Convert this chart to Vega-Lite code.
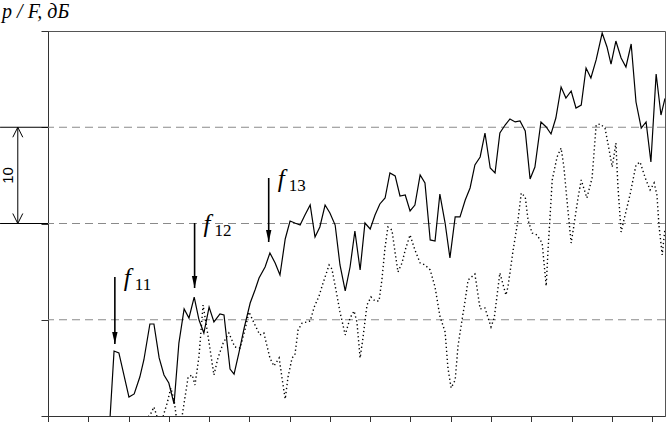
{
  "$schema": "https://vega.github.io/schema/vega-lite/v6.json",
  "width": 617,
  "height": 385,
  "autosize": {"type": "none"},
  "padding": {"left": 48, "top": 31, "right": 2, "bottom": 6},
  "background": "white",
  "config": {
    "view": {"stroke": "#555", "strokeWidth": 1},
    "axis": {"domainColor": "#333", "tickColor": "#333", "labels": false, "title": null, "grid": false}
  },
  "datasets": {
    "grid": [{"v": 10}, {"v": 20}, {"v": 30}],
    "solid": [
      {"x": 1.54, "y": -0.2}, {"x": 1.64, "y": 6.75}, {"x": 1.76, "y": 6.55}, {"x": 2.01, "y": 1.97},
      {"x": 2.14, "y": 2.29}, {"x": 2.28, "y": 4.05}, {"x": 2.38, "y": 5.82}, {"x": 2.53, "y": 9.56},
      {"x": 2.63, "y": 9.56}, {"x": 2.76, "y": 6.03}, {"x": 2.88, "y": 4.26}, {"x": 3.0, "y": 3.43},
      {"x": 3.13, "y": 1.25}, {"x": 3.25, "y": 7.58}, {"x": 3.38, "y": 11.12}, {"x": 3.5, "y": 10.18},
      {"x": 3.63, "y": 12.36}, {"x": 3.75, "y": 9.97}, {"x": 3.87, "y": 8.62}, {"x": 4.0, "y": 11.32},
      {"x": 4.12, "y": 9.77}, {"x": 4.27, "y": 10.6}, {"x": 4.37, "y": 10.49}, {"x": 4.52, "y": 4.88},
      {"x": 4.62, "y": 4.36}, {"x": 4.74, "y": 6.55}, {"x": 4.87, "y": 9.14}, {"x": 5.02, "y": 11.74},
      {"x": 5.14, "y": 13.09}, {"x": 5.24, "y": 14.34}, {"x": 5.39, "y": 15.48}, {"x": 5.51, "y": 16.94},
      {"x": 5.64, "y": 15.9}, {"x": 5.76, "y": 14.65}, {"x": 5.89, "y": 18.39}, {"x": 6.01, "y": 20.26},
      {"x": 6.13, "y": 20.05}, {"x": 6.26, "y": 19.84}, {"x": 6.38, "y": 20.88}, {"x": 6.51, "y": 21.92},
      {"x": 6.63, "y": 18.6}, {"x": 6.75, "y": 19.64}, {"x": 6.88, "y": 21.92}, {"x": 7.0, "y": 21.09},
      {"x": 7.13, "y": 19.84}, {"x": 7.25, "y": 15.69}, {"x": 7.38, "y": 12.99}, {"x": 7.5, "y": 15.48},
      {"x": 7.62, "y": 19.22}, {"x": 7.75, "y": 15.17}, {"x": 7.87, "y": 20.05}, {"x": 8.0, "y": 19.43},
      {"x": 8.12, "y": 20.88}, {"x": 8.24, "y": 22.03}, {"x": 8.37, "y": 22.65}, {"x": 8.49, "y": 25.25},
      {"x": 8.62, "y": 24.94}, {"x": 8.74, "y": 22.86}, {"x": 8.87, "y": 22.96}, {"x": 8.99, "y": 21.3},
      {"x": 9.11, "y": 21.92}, {"x": 9.24, "y": 25.04}, {"x": 9.36, "y": 24.21}, {"x": 9.49, "y": 18.29},
      {"x": 9.61, "y": 18.18}, {"x": 9.73, "y": 23.06}, {"x": 9.86, "y": 20.05}, {"x": 9.98, "y": 16.42},
      {"x": 10.11, "y": 20.68}, {"x": 10.23, "y": 20.68}, {"x": 10.36, "y": 22.44}, {"x": 10.48, "y": 23.69},
      {"x": 10.6, "y": 26.08}, {"x": 10.73, "y": 26.91}, {"x": 10.85, "y": 29.4}, {"x": 10.98, "y": 25.77},
      {"x": 11.1, "y": 25.25}, {"x": 11.22, "y": 29.4}, {"x": 11.35, "y": 30.23}, {"x": 11.47, "y": 30.86},
      {"x": 11.6, "y": 30.55}, {"x": 11.72, "y": 30.65}, {"x": 11.85, "y": 29.61}, {"x": 11.97, "y": 24.62},
      {"x": 12.09, "y": 25.87}, {"x": 12.24, "y": 30.55}, {"x": 12.37, "y": 30.03}, {"x": 12.49, "y": 29.3},
      {"x": 12.61, "y": 30.96}, {"x": 12.74, "y": 34.18}, {"x": 12.86, "y": 33.04}, {"x": 12.99, "y": 33.77},
      {"x": 13.11, "y": 32.0}, {"x": 13.24, "y": 32.31}, {"x": 13.36, "y": 36.16}, {"x": 13.48, "y": 35.12},
      {"x": 13.61, "y": 36.99}, {"x": 13.76, "y": 39.79}, {"x": 13.88, "y": 38.34}, {"x": 13.98, "y": 36.57},
      {"x": 14.1, "y": 38.96}, {"x": 14.23, "y": 37.19}, {"x": 14.35, "y": 36.26}, {"x": 14.48, "y": 38.65},
      {"x": 14.6, "y": 32.62}, {"x": 14.73, "y": 29.92}, {"x": 14.85, "y": 30.55}, {"x": 14.97, "y": 26.39},
      {"x": 15.1, "y": 35.53}, {"x": 15.22, "y": 31.27}, {"x": 15.32, "y": 33.0}
    ],
    "dotted": [
      {"x": 2.43, "y": -0.42}, {"x": 2.56, "y": 0.31}, {"x": 2.63, "y": 0.94}, {"x": 2.71, "y": -0.1},
      {"x": 2.78, "y": -0.73}, {"x": 2.86, "y": 0.0}, {"x": 2.96, "y": 1.35}, {"x": 3.05, "y": 2.91},
      {"x": 3.13, "y": 1.66}, {"x": 3.2, "y": -0.52}, {"x": 3.33, "y": 0.0}, {"x": 3.48, "y": 4.05},
      {"x": 3.58, "y": 4.26}, {"x": 3.65, "y": 3.22}, {"x": 3.75, "y": 6.23}, {"x": 3.85, "y": 11.53},
      {"x": 3.97, "y": 8.42}, {"x": 4.12, "y": 4.26}, {"x": 4.22, "y": 6.03}, {"x": 4.35, "y": 7.58},
      {"x": 4.49, "y": 8.62}, {"x": 4.64, "y": 7.17}, {"x": 4.77, "y": 7.06}, {"x": 4.89, "y": 8.94},
      {"x": 4.99, "y": 10.81}, {"x": 5.14, "y": 9.45}, {"x": 5.26, "y": 8.42}, {"x": 5.36, "y": 8.62},
      {"x": 5.51, "y": 6.03}, {"x": 5.61, "y": 5.19}, {"x": 5.74, "y": 6.03}, {"x": 5.81, "y": 3.95},
      {"x": 5.89, "y": 1.77}, {"x": 5.96, "y": 4.05}, {"x": 6.06, "y": 6.03}, {"x": 6.13, "y": 6.34},
      {"x": 6.21, "y": 8.94}, {"x": 6.31, "y": 9.66}, {"x": 6.43, "y": 9.77}, {"x": 6.51, "y": 9.87},
      {"x": 6.61, "y": 11.32}, {"x": 6.73, "y": 12.47}, {"x": 6.83, "y": 13.82}, {"x": 6.98, "y": 15.69},
      {"x": 7.05, "y": 15.27}, {"x": 7.15, "y": 13.09}, {"x": 7.25, "y": 10.81}, {"x": 7.38, "y": 8.42},
      {"x": 7.5, "y": 10.18}, {"x": 7.6, "y": 10.91}, {"x": 7.67, "y": 9.77}, {"x": 7.75, "y": 6.03},
      {"x": 7.82, "y": 8.1}, {"x": 7.92, "y": 11.53}, {"x": 8.02, "y": 12.36}, {"x": 8.12, "y": 11.95},
      {"x": 8.22, "y": 11.95}, {"x": 8.29, "y": 14.13}, {"x": 8.37, "y": 17.56}, {"x": 8.44, "y": 19.64},
      {"x": 8.54, "y": 19.32}, {"x": 8.62, "y": 16.94}, {"x": 8.69, "y": 14.96}, {"x": 8.79, "y": 15.9},
      {"x": 8.87, "y": 17.25}, {"x": 8.99, "y": 18.81}, {"x": 9.11, "y": 17.25}, {"x": 9.24, "y": 15.9},
      {"x": 9.36, "y": 15.69}, {"x": 9.49, "y": 15.17}, {"x": 9.61, "y": 13.4}, {"x": 9.73, "y": 10.39},
      {"x": 9.86, "y": 8.73}, {"x": 9.93, "y": 4.99}, {"x": 10.01, "y": 2.91}, {"x": 10.11, "y": 3.74},
      {"x": 10.18, "y": 7.27}, {"x": 10.28, "y": 9.97}, {"x": 10.36, "y": 12.05}, {"x": 10.43, "y": 14.13},
      {"x": 10.6, "y": 14.75}, {"x": 10.73, "y": 11.12}, {"x": 10.85, "y": 11.22}, {"x": 11.0, "y": 9.25},
      {"x": 11.08, "y": 10.18}, {"x": 11.22, "y": 14.86}, {"x": 11.37, "y": 12.57}, {"x": 11.42, "y": 13.4},
      {"x": 11.55, "y": 17.25}, {"x": 11.67, "y": 20.36}, {"x": 11.75, "y": 23.17}, {"x": 11.85, "y": 22.75},
      {"x": 11.92, "y": 20.36}, {"x": 12.02, "y": 19.01}, {"x": 12.14, "y": 18.81}, {"x": 12.27, "y": 17.97},
      {"x": 12.37, "y": 13.51}, {"x": 12.42, "y": 17.56}, {"x": 12.52, "y": 24.52}, {"x": 12.64, "y": 26.91},
      {"x": 12.74, "y": 27.84}, {"x": 12.81, "y": 25.87}, {"x": 12.89, "y": 22.23}, {"x": 12.99, "y": 17.97},
      {"x": 13.06, "y": 19.84}, {"x": 13.16, "y": 22.65}, {"x": 13.24, "y": 24.52}, {"x": 13.38, "y": 22.65},
      {"x": 13.51, "y": 24.73}, {"x": 13.61, "y": 30.23}, {"x": 13.71, "y": 30.34}, {"x": 13.83, "y": 29.92},
      {"x": 13.91, "y": 28.16}, {"x": 14.01, "y": 25.87}, {"x": 14.1, "y": 28.36}, {"x": 14.15, "y": 24.0},
      {"x": 14.23, "y": 19.12}, {"x": 14.33, "y": 20.88}, {"x": 14.45, "y": 22.96}, {"x": 14.6, "y": 26.08},
      {"x": 14.7, "y": 26.39}, {"x": 14.83, "y": 24.73}, {"x": 14.95, "y": 23.48}, {"x": 15.05, "y": 24.21},
      {"x": 15.12, "y": 22.96}, {"x": 15.17, "y": 19.84}, {"x": 15.25, "y": 16.73}, {"x": 15.32, "y": 19.5}
    ],
    "arrows": [
      {"k": "11", "x": 1.66, "top": 14.44, "tip": 7.48},
      {"k": "12", "x": 3.64, "top": 20.05, "tip": 13.3},
      {"k": "13", "x": 5.48, "top": 24.73, "tip": 18.08}
    ],
    "scaleLines": [
      {"v": 20, "x0": -1.19, "x1": 0},
      {"v": 30, "x0": -1.19, "x1": 0}
    ],
    "scaleBar": [{"x": -0.75, "y1": 20, "y2": 30, "t": "10", "tx": -0.99, "ty": 25}],
    "scaleHeads": [
      {"x": -0.75, "y": 30, "end": "top"},
      {"x": -0.75, "y": 20, "end": "bottom"}
    ],
    "heading": [{"x": -1.14, "y": 41.3, "t": "p / F, дБ"}]
  },
  "layer": [
    {
      "data": {"name": "grid"},
      "mark": {"type": "rule", "color": "#8a8a8a", "strokeDash": [8, 5], "strokeWidth": 1},
      "encoding": {
        "y": {
          "field": "v", "type": "quantitative",
          "scale": {"domain": [0, 40], "nice": false, "zero": false},
          "axis": {"values": [0, 10, 20, 30, 40], "tickSize": 7, "domain": true}
        }
      }
    },
    {
      "data": {"name": "solid"},
      "mark": {"type": "line", "color": "black", "strokeWidth": 1.2, "clip": true},
      "encoding": {
        "x": {
          "field": "x", "type": "quantitative",
          "scale": {"domain": [0, 15.32], "nice": false, "zero": false},
          "axis": {"values": [0, 1, 2, 3, 4, 5, 6, 7, 8, 9, 10, 11, 12, 13, 14, 15], "tickSize": 6}
        },
        "y": {"field": "y", "type": "quantitative"}
      }
    },
    {
      "data": {"name": "dotted"},
      "mark": {"type": "line", "color": "black", "strokeWidth": 1.4, "strokeDash": [1.3, 2.7], "clip": true},
      "encoding": {
        "x": {"field": "x", "type": "quantitative"},
        "y": {"field": "y", "type": "quantitative"}
      }
    },
    {
      "data": {"name": "arrows"},
      "mark": {"type": "rule", "color": "black", "strokeWidth": 1.6},
      "encoding": {
        "x": {"field": "x", "type": "quantitative"},
        "y": {"field": "top", "type": "quantitative"},
        "y2": {"field": "tip"}
      }
    },
    {
      "data": {"name": "arrows"},
      "mark": {"type": "point", "shape": "M-0.45,-2L0.45,-2L0,0Z", "filled": true, "color": "black", "opacity": 1, "size": 144},
      "encoding": {
        "x": {"field": "x", "type": "quantitative"},
        "y": {"field": "tip", "type": "quantitative"}
      }
    },
    {
      "data": {"name": "arrows"},
      "mark": {"type": "text", "text": "f", "font": "Liberation Serif", "fontStyle": "italic", "fontSize": 25, "align": "left", "baseline": "alphabetic", "dx": 9, "dy": 9, "color": "black"},
      "encoding": {
        "x": {"field": "x", "type": "quantitative"},
        "y": {"field": "top", "type": "quantitative"}
      }
    },
    {
      "data": {"name": "arrows"},
      "mark": {"type": "text", "font": "Liberation Serif", "fontSize": 17, "align": "left", "baseline": "alphabetic", "dx": 20, "dy": 13, "color": "black"},
      "encoding": {
        "x": {"field": "x", "type": "quantitative"},
        "y": {"field": "top", "type": "quantitative"},
        "text": {"field": "k"}
      }
    },
    {
      "data": {"name": "scaleLines"},
      "mark": {"type": "rule", "color": "black", "strokeWidth": 1},
      "encoding": {
        "x": {"field": "x0", "type": "quantitative"},
        "x2": {"field": "x1"},
        "y": {"field": "v", "type": "quantitative"}
      }
    },
    {
      "data": {"name": "scaleBar"},
      "mark": {"type": "rule", "color": "black", "strokeWidth": 1},
      "encoding": {
        "x": {"field": "x", "type": "quantitative"},
        "y": {"field": "y1", "type": "quantitative"},
        "y2": {"field": "y2"}
      }
    },
    {
      "data": {"name": "scaleBar"},
      "mark": {"type": "text", "font": "Liberation Sans", "fontSize": 15, "angle": 270, "align": "center", "baseline": "middle", "color": "black"},
      "encoding": {
        "x": {"field": "tx", "type": "quantitative"},
        "y": {"field": "ty", "type": "quantitative"},
        "text": {"field": "t"}
      }
    },
    {
      "data": {"name": "scaleHeads"},
      "transform": [{"filter": "datum.end === 'top'"}],
      "mark": {"type": "point", "shape": "M-1,2L0,0L1,2", "filled": false, "color": "black", "opacity": 1, "strokeWidth": 1, "size": 100},
      "encoding": {
        "x": {"field": "x", "type": "quantitative"},
        "y": {"field": "y", "type": "quantitative"}
      }
    },
    {
      "data": {"name": "scaleHeads"},
      "transform": [{"filter": "datum.end === 'bottom'"}],
      "mark": {"type": "point", "shape": "M-1,-2L0,0L1,-2", "filled": false, "color": "black", "opacity": 1, "strokeWidth": 1, "size": 100},
      "encoding": {
        "x": {"field": "x", "type": "quantitative"},
        "y": {"field": "y", "type": "quantitative"}
      }
    },
    {
      "data": {"name": "heading"},
      "mark": {"type": "text", "font": "Liberation Serif", "fontStyle": "italic", "fontSize": 20, "align": "left", "baseline": "alphabetic", "color": "black"},
      "encoding": {
        "x": {"field": "x", "type": "quantitative"},
        "y": {"field": "y", "type": "quantitative"},
        "text": {"field": "t"}
      }
    }
  ]
}
